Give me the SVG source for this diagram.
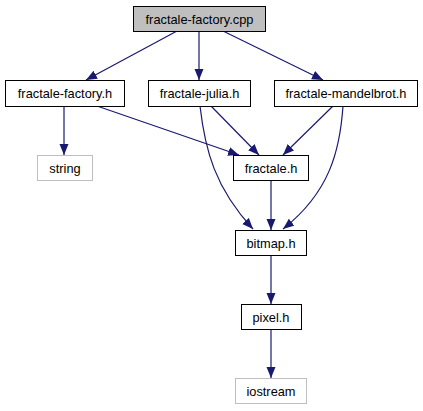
<svg xmlns="http://www.w3.org/2000/svg" width="423" height="411" viewBox="0 0 423 411">
<style>
.n rect{fill:#fff;stroke:#000;stroke-width:1}
.n.root rect{fill:#bfbfbf}
.n.ext rect{stroke:#bfbfbf}
.n text{font-family:"Liberation Sans",Arial,sans-serif;font-size:12.8px;fill:#000;text-anchor:middle}
.e path{fill:none;stroke:#191970;stroke-width:1.2}
</style>
<defs>
<marker id="a" markerUnits="userSpaceOnUse" markerWidth="12" markerHeight="10" refX="11" refY="4.5" orient="auto">
<path d="M0,0 L11,4.5 L0,9 z" fill="#191970"/>
</marker>
</defs>
<rect width="423" height="411" fill="#fff"/>
<g class="e">
<path d="M177,31 L86,80" marker-end="url(#a)"/>
<path d="M199,31 L199,80" marker-end="url(#a)"/>
<path d="M223,31 L323,80" marker-end="url(#a)"/>
<path d="M64,106 L64,155" marker-end="url(#a)"/>
<path d="M97,106 L239,155" marker-end="url(#a)"/>
<path d="M211,106 L259,155" marker-end="url(#a)"/>
<path d="M200,106 C205,150 215,188 253,229" marker-end="url(#a)"/>
<path d="M333,106 L283,155" marker-end="url(#a)"/>
<path d="M343,106 C340,150 330,192 283,229" marker-end="url(#a)"/>
<path d="M271,181 L271,230" marker-end="url(#a)"/>
<path d="M271,255 L271,304" marker-end="url(#a)"/>
<path d="M271,330 L271,378" marker-end="url(#a)"/>
</g>
<g id="node-cpp" class="n root"><rect x="133.5" y="6.5" width="132" height="25"/><text x="199.5" y="23.5">fractale-factory.cpp</text></g>
<g id="node-factory" class="n"><rect x="5.5" y="80.5" width="119" height="26"/><text x="65" y="98">fractale-factory.h</text></g>
<g id="node-julia" class="n"><rect x="148.5" y="80.5" width="102" height="26"/><text x="199.5" y="98">fractale-julia.h</text></g>
<g id="node-mandel" class="n"><rect x="274.5" y="80.5" width="143" height="26"/><text x="346" y="98">fractale-mandelbrot.h</text></g>
<g id="node-string" class="n ext"><rect x="37.5" y="155.5" width="55" height="25"/><text x="65" y="172.5">string</text></g>
<g id="node-fractale" class="n"><rect x="233.5" y="155.5" width="75" height="25"/><text x="271" y="172.5">fractale.h</text></g>
<g id="node-bitmap" class="n"><rect x="235.5" y="230.5" width="71" height="25"/><text x="271" y="247.5">bitmap.h</text></g>
<g id="node-pixel" class="n"><rect x="241.5" y="304.5" width="60" height="25"/><text x="271" y="321.5">pixel.h</text></g>
<g id="node-iostream" class="n ext"><rect x="235.5" y="378.5" width="71" height="25"/><text x="271" y="395.5">iostream</text></g>
</svg>
